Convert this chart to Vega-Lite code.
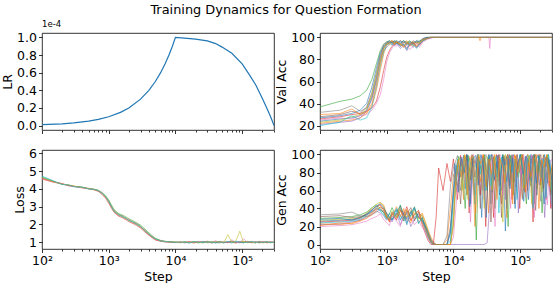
{
"$schema": "https://vega.github.io/schema/vega-lite/v6.json",
"padding": {"left": 1, "top": 3, "right": 0, "bottom": 0},
"title": {"text": "Training Dynamics for Question Formation", "fontSize": 12.9, "fontWeight": "normal", "font": "DejaVu Sans", "color": "#000", "anchor": "middle", "offset": 3, "dx": 9},
"config": {
  "font": "DejaVu Sans",
  "view": {"stroke": "#000", "strokeWidth": 0.8},
  "axis": {"labelFont": "DejaVu Sans", "titleFont": "DejaVu Sans", "labelFontSize": 12.5, "titleFontSize": 12.5, "titleFontWeight": "normal", "labelColor": "#000", "titleColor": "#000", "tickColor": "#000", "tickSize": 3.5, "tickWidth": 0.8, "domain": false, "grid": false, "labelPadding": 2, "titlePadding": 2},
  "line": {"strokeWidth": 1, "opacity": 0.58}
},
"bounds": "flush",
"spacing": {"row": 20, "column": 46},
"columns": 2,
"concat": [
 {
  "width": 232, "height": 97,
  "title": {"text": "1e-4", "anchor": "start", "frame": "group", "fontSize": 8.5, "fontWeight": "normal", "offset": 3, "color": "#000"},
  "data": {"values": "x,y\n100,0.000001\n200,0.000002\n300,0.000003\n500,0.000005\n700,0.000007\n1000,0.00001\n1500,0.000015\n2000,0.00002\n3000,0.00003\n4000,0.00004\n5000,0.00005\n6000,0.00006\n7000,0.00007\n8000,0.00008\n9000,0.00009\n10000,0.0001\n15000,0.000099\n20000,0.000098\n30000,0.000096\n40000,0.000093\n50000,0.000089\n70000,0.000082\n100000,0.00007\n130000,0.000057\n160000,0.000046\n200000,0.000031\n230000,0.000021\n260000,0.000012\n280000,0.000006\n300000,0", "format": {"type": "csv", "parse": {"x": "number", "y": "number"}}},
  "mark": {"type": "line", "color": "#1f77b4", "strokeWidth": 1.2, "opacity": 1, "clip": true},
  "encoding": {
   "x": {"field": "x", "type": "quantitative", "scale": {"type": "log", "domain": [100, 300000], "nice": false}, "axis": {"title": null, "labels": false, "values": [100,200,300,400,500,600,700,800,900,1000,2000,3000,4000,5000,6000,7000,8000,9000,10000,20000,30000,40000,50000,60000,70000,80000,90000,100000,200000,300000], "tickSize": {"condition": {"test": "indexof([100,1000,10000,100000],datum.value)>=0", "value": 3.5}, "value": 2}}},
   "y": {"field": "y", "type": "quantitative", "scale": {"domain": [-0.000005, 0.000105], "nice": false, "zero": false}, "axis": {"title": "LR", "values": [0, 0.00002, 0.00004, 0.00006, 0.00008, 0.0001], "labelExpr": "format(datum.value*10000,'.1f')"}}
  }
 },
 {
  "width": 232, "height": 97,
  "data": {"values": "r,x,y\na,100,24\na,200,26\na,300,27\na,400,29\na,500,34\na,600,45\na,700,62\na,800,80\na,900,90\na,1000,94\na,1100,95\na,1200,93\na,1300,96\na,1400,94\na,1600,97\na,1800,92\na,2000,95\na,2200,93\na,2500,96\na,2800,91\na,3100,95\na,3500,97\na,4000,99\na,4500,99.5\na,5000,100\na,6000,100\na,8000,100\na,300000,100\nb,100,22\nb,200,24\nb,300,25\nb,400,27\nb,500,31\nb,600,38\nb,700,52\nb,800,70\nb,900,85\nb,1000,93\nb,1100,96\nb,1200,97\nb,1300,94\nb,1400,96\nb,1600,93\nb,1800,95\nb,2000,97\nb,2200,92\nb,2500,94\nb,2800,96\nb,3100,93\nb,3500,98\nb,4000,99\nb,4500,100\nb,5000,100\nb,6000,100\nb,8000,100\nb,24000,100\nb,25000,97\nb,26000,100\nb,300000,100\nc,100,37\nc,200,42\nc,300,44\nc,400,47\nc,500,52\nc,600,62\nc,700,76\nc,800,88\nc,900,94\nc,1000,96\nc,1100,97\nc,1200,95\nc,1300,97\nc,1400,96\nc,1600,94\nc,1800,97\nc,2000,95\nc,2200,97\nc,2500,94\nc,2800,96\nc,3100,97\nc,3500,98\nc,4000,100\nc,4500,100\nc,5000,100\nc,6000,100\nc,8000,100\nc,300000,100\nd,100,26\nd,200,28\nd,300,30\nd,400,31\nd,500,33\nd,600,36\nd,700,42\nd,800,55\nd,900,70\nd,1000,82\nd,1100,88\nd,1200,92\nd,1300,94\nd,1400,96\nd,1600,92\nd,1800,94\nd,2000,90\nd,2200,93\nd,2500,95\nd,2800,91\nd,3100,94\nd,3500,97\nd,4000,99\nd,4500,100\nd,5000,100\nd,6000,100\nd,8000,100\nd,300000,100\ne,100,21\ne,200,23\ne,300,24\ne,400,27\ne,500,33\ne,600,44\ne,700,60\ne,800,78\ne,900,88\ne,1000,91\ne,1100,94\ne,1200,96\ne,1300,92\ne,1400,95\ne,1600,90\ne,1800,93\ne,2000,88\ne,2200,94\ne,2500,91\ne,2800,95\ne,3100,93\ne,3500,97\ne,4000,99\ne,4500,100\ne,5000,100\ne,6000,100\ne,8000,100\ne,300000,100\nf,100,28\nf,200,30\nf,300,33\nf,400,31\nf,500,37\nf,600,50\nf,700,68\nf,800,84\nf,900,93\nf,1000,96\nf,1100,95\nf,1200,97\nf,1300,96\nf,1400,94\nf,1600,97\nf,1800,95\nf,2000,96\nf,2200,94\nf,2500,97\nf,2800,95\nf,3100,96\nf,3500,99\nf,4000,100\nf,4500,100\nf,5000,100\nf,6000,100\nf,8000,100\nf,300000,100\ng,100,25\ng,200,27\ng,300,26\ng,400,29\ng,500,30\ng,600,34\ng,700,40\ng,800,48\ng,900,62\ng,1000,78\ng,1100,86\ng,1200,90\ng,1300,94\ng,1400,92\ng,1600,95\ng,1800,91\ng,2000,93\ng,2200,89\ng,2500,92\ng,2800,94\ng,3100,91\ng,3500,96\ng,4000,98\ng,4500,99\ng,5000,100\ng,6000,100\ng,8000,100\ng,34000,100\ng,35000,90\ng,36000,100\ng,300000,100\nh,100,32\nh,200,34\nh,300,38\nh,400,33\nh,500,36\nh,600,47\nh,700,64\nh,800,82\nh,900,91\nh,1000,95\nh,1100,96\nh,1200,94\nh,1300,97\nh,1400,95\nh,1600,93\nh,1800,96\nh,2000,94\nh,2200,96\nh,2500,93\nh,2800,97\nh,3100,95\nh,3500,98\nh,4000,100\nh,4500,100\nh,5000,100\nh,6000,100\nh,8000,100\nh,300000,100\ni,100,23\ni,200,25\ni,300,28\ni,400,30\ni,500,35\ni,600,48\ni,700,66\ni,800,79\ni,900,89\ni,1000,94\ni,1100,93\ni,1200,96\ni,1300,95\ni,1400,97\ni,1600,94\ni,1800,92\ni,2000,95\ni,2200,96\ni,2500,92\ni,2800,95\ni,3100,96\ni,3500,97\ni,4000,99\ni,4500,100\ni,5000,100\ni,6000,100\ni,8000,100\ni,300000,100\nj,100,20\nj,200,23\nj,300,29\nj,400,25\nj,500,27\nj,600,37\nj,700,55\nj,800,74\nj,900,87\nj,1000,93\nj,1100,95\nj,1200,96\nj,1300,93\nj,1400,95\nj,1600,92\nj,1800,94\nj,2000,89\nj,2200,95\nj,2500,93\nj,2800,90\nj,3100,94\nj,3500,97\nj,4000,99\nj,4500,100\nj,5000,100\nj,6000,100\nj,8000,100\nj,300000,100\nk,100,27\nk,200,29\nk,300,31\nk,400,34\nk,500,40\nk,600,55\nk,700,72\nk,800,86\nk,900,92\nk,1000,95\nk,1100,97\nk,1200,95\nk,1300,96\nk,1400,97\nk,1600,95\nk,1800,97\nk,2000,93\nk,2200,96\nk,2500,95\nk,2800,97\nk,3100,96\nk,3500,99\nk,4000,100\nk,4500,100\nk,5000,100\nk,6000,100\nk,8000,100\nk,300000,100\nl,100,30\nl,200,31\nl,300,35\nl,400,30\nl,500,32\nl,600,40\nl,700,57\nl,800,76\nl,900,90\nl,1000,94\nl,1100,95\nl,1200,97\nl,1300,93\nl,1400,96\nl,1600,94\nl,1800,91\nl,2000,95\nl,2200,94\nl,2500,96\nl,2800,92\nl,3100,95\nl,3500,98\nl,4000,99\nl,4500,100\nl,5000,100\nl,6000,100\nl,8000,100\nl,300000,100", "format": {"type": "csv", "parse": {"x": "number", "y": "number"}}},
  "mark": {"type": "line", "clip": true},
  "encoding": {
   "x": {"field": "x", "type": "quantitative", "scale": {"type": "log", "domain": [100, 300000], "nice": false}, "axis": {"title": null, "labels": false, "values": [100,200,300,400,500,600,700,800,900,1000,2000,3000,4000,5000,6000,7000,8000,9000,10000,20000,30000,40000,50000,60000,70000,80000,90000,100000,200000,300000], "tickSize": {"condition": {"test": "indexof([100,1000,10000,100000],datum.value)>=0", "value": 3.5}, "value": 2}}},
   "y": {"field": "y", "type": "quantitative", "scale": {"domain": [16, 104], "nice": false, "zero": false}, "axis": {"title": "Val Acc", "values": [20, 40, 60, 80, 100]}},
   "color": {"field": "r", "type": "nominal", "legend": null, "scale": {"domain": ["a","b","c","d","e","f","g","h","i","j","k","l"], "range": ["#1f77b4","#ff7f0e","#2ca02c","#d62728","#9467bd","#8c564b","#e377c2","#7f7f7f","#bcbd22","#17becf","#1f77b4","#ff7f0e"]}}
  }
 },
 {
  "width": 232, "height": 99,
  "data": {"values": "r,x,y\na,100,4.62\na,150,4.41\na,200,4.27\na,250,4.21\na,300,4.14\na,400,4.09\na,500,4.01\na,600,3.98\na,700,3.91\na,800,3.74\na,900,3.56\na,1000,3.28\na,1100,3.02\na,1200,2.74\na,1400,2.57\na,1600,2.43\na,1800,2.37\na,2000,2.22\na,2300,2.15\na,2600,2.01\na,3000,1.9\na,3500,1.63\na,4000,1.47\na,4500,1.28\na,5000,1.19\na,6000,1.07\na,7000,1.05\na,8500,1.01\na,10000,1.0\na,12000,0.98\na,14000,1.03\na,16000,0.96\na,19000,1.02\na,22000,0.99\na,26000,1.05\na,30000,0.97\na,35000,1.01\na,40000,0.95\na,46000,1.04\na,53000,0.98\na,61000,1.02\na,70000,0.96\na,80000,1.06\na,92000,0.99\na,105000,0.97\na,120000,1.03\na,138000,0.98\na,158000,1.04\na,180000,0.96\na,205000,1.01\na,235000,0.99\na,265000,1.03\na,300000,0.98\nb,100,4.55\nb,150,4.38\nb,200,4.3\nb,250,4.18\nb,300,4.16\nb,400,4.06\nb,500,4.03\nb,600,3.95\nb,700,3.88\nb,800,3.77\nb,900,3.5\nb,1000,3.36\nb,1100,2.94\nb,1200,2.82\nb,1400,2.49\nb,1600,2.51\nb,1800,2.29\nb,2000,2.31\nb,2300,2.07\nb,2600,2.09\nb,3000,1.82\nb,3500,1.71\nb,4000,1.4\nb,4500,1.35\nb,5000,1.14\nb,6000,1.1\nb,7000,1.03\nb,8500,1.03\nb,10000,0.99\nb,12000,1.03\nb,14000,0.97\nb,16000,1.01\nb,19000,0.95\nb,22000,1.04\nb,26000,0.98\nb,30000,1.02\nb,35000,0.96\nb,40000,1.05\nb,46000,0.99\nb,53000,0.97\nb,61000,1.03\nb,70000,1.0\nb,80000,0.95\nb,92000,1.04\nb,105000,1.02\nb,120000,0.97\nb,138000,1.05\nb,158000,0.98\nb,180000,1.02\nb,205000,0.96\nb,235000,1.04\nb,265000,0.99\nb,300000,1.0\nc,100,4.68\nc,150,4.43\nc,200,4.26\nc,250,4.22\nc,300,4.13\nc,400,4.1\nc,500,4.0\nc,600,3.99\nc,700,3.92\nc,800,3.79\nc,900,3.62\nc,1000,3.38\nc,1100,3.1\nc,1200,2.84\nc,1400,2.62\nc,1600,2.53\nc,1800,2.43\nc,2000,2.32\nc,2300,2.21\nc,2600,2.1\nc,3000,1.96\nc,3500,1.73\nc,4000,1.53\nc,4500,1.36\nc,5000,1.23\nc,6000,1.1\nc,7000,1.05\nc,8500,1.02\nc,10000,1.01\nc,12000,0.97\nc,14000,1.02\nc,16000,1.0\nc,19000,1.04\nc,22000,0.96\nc,26000,1.01\nc,30000,0.98\nc,35000,1.05\nc,40000,0.99\nc,46000,0.96\nc,53000,1.03\nc,61000,0.98\nc,70000,1.06\nc,80000,1.0\nc,92000,0.97\nc,105000,1.04\nc,120000,0.99\nc,138000,1.01\nc,158000,0.96\nc,180000,1.05\nc,205000,0.98\nc,235000,1.02\nc,265000,0.97\nc,300000,1.01\nd,100,4.58\nd,150,4.39\nd,200,4.29\nd,250,4.19\nd,300,4.15\nd,400,4.07\nd,500,4.02\nd,600,3.96\nd,700,3.86\nd,800,3.68\nd,900,3.47\nd,1000,3.2\nd,1100,2.92\nd,1200,2.68\nd,1400,2.48\nd,1600,2.38\nd,1800,2.28\nd,2000,2.16\nd,2300,2.06\nd,2600,1.95\nd,3000,1.8\nd,3500,1.57\nd,4000,1.39\nd,4500,1.24\nd,5000,1.13\nd,6000,1.05\nd,7000,1.02\nd,8500,1.0\nd,10000,0.98\nd,12000,1.01\nd,14000,0.98\nd,16000,1.04\nd,19000,0.97\nd,22000,1.02\nd,26000,0.99\nd,30000,1.06\nd,35000,0.96\nd,40000,1.01\nd,46000,1.03\nd,53000,0.98\nd,61000,1.0\nd,70000,1.04\nd,80000,0.97\nd,92000,1.02\nd,105000,0.99\nd,120000,1.05\nd,138000,0.97\nd,158000,1.01\nd,180000,0.98\nd,205000,1.04\nd,235000,0.96\nd,265000,1.02\nd,300000,0.99\ng,100,4.57\ng,150,4.37\ng,200,4.31\ng,250,4.17\ng,300,4.14\ng,400,4.07\ng,500,4.01\ng,600,3.96\ng,700,3.9\ng,800,3.78\ng,900,3.53\ng,1000,3.32\ng,1100,2.98\ng,1200,2.79\ng,1400,2.53\ng,1600,2.47\ng,1800,2.33\ng,2000,2.27\ng,2300,2.11\ng,2600,2.05\ng,3000,1.86\ng,3500,1.67\ng,4000,1.43\ng,4500,1.33\ng,5000,1.15\ng,6000,1.1\ng,7000,1.02\ng,8500,1.02\ng,10000,1.0\ng,12000,1.0\ng,14000,0.96\ng,16000,1.03\ng,19000,0.99\ng,22000,1.05\ng,26000,0.97\ng,30000,1.02\ng,35000,1.0\ng,40000,1.08\ng,46000,0.98\ng,53000,1.03\ng,61000,0.96\ng,70000,1.14\ng,80000,1.0\ng,92000,0.97\ng,105000,1.2\ng,120000,0.99\ng,138000,1.03\ng,158000,0.97\ng,180000,1.06\ng,205000,1.0\ng,235000,1.04\ng,265000,0.98\ng,300000,1.01\ni,100,4.64\ni,150,4.4\ni,200,4.27\ni,250,4.23\ni,300,4.16\ni,400,4.09\ni,500,4.03\ni,600,3.98\ni,700,3.92\ni,800,3.73\ni,900,3.57\ni,1000,3.27\ni,1100,3.03\ni,1200,2.73\ni,1400,2.58\ni,1600,2.42\ni,1800,2.38\ni,2000,2.21\ni,2300,2.16\ni,2600,2.0\ni,3000,1.91\ni,3500,1.62\ni,4000,1.48\ni,4500,1.28\ni,5000,1.21\ni,6000,1.07\ni,7000,1.05\ni,8500,1.01\ni,10000,1.02\ni,12000,0.98\ni,14000,1.02\ni,16000,0.97\ni,19000,1.04\ni,22000,1.0\ni,26000,0.96\ni,30000,1.03\ni,35000,0.99\ni,40000,1.01\ni,46000,1.05\ni,53000,0.97\ni,61000,1.43\ni,70000,0.99\ni,80000,1.05\ni,92000,1.62\ni,105000,0.98\ni,120000,1.04\ni,138000,1.0\ni,158000,0.97\ni,180000,1.03\ni,205000,0.99\ni,235000,1.01\ni,265000,0.98\ni,300000,1.0\nj,100,4.72\nj,150,4.45\nj,200,4.25\nj,250,4.22\nj,300,4.12\nj,400,4.1\nj,500,4.0\nj,600,3.97\nj,700,3.9\nj,800,3.74\nj,900,3.56\nj,1000,3.3\nj,1100,3.0\nj,1200,2.75\nj,1400,2.55\nj,1600,2.45\nj,1800,2.35\nj,2000,2.23\nj,2300,2.14\nj,2600,2.03\nj,3000,1.88\nj,3500,1.64\nj,4000,1.46\nj,4500,1.3\nj,5000,1.19\nj,6000,1.08\nj,7000,1.03\nj,8500,1.02\nj,10000,0.99\nj,12000,1.02\nj,14000,0.99\nj,16000,0.96\nj,19000,1.03\nj,22000,1.01\nj,26000,0.98\nj,30000,1.04\nj,35000,0.97\nj,40000,1.0\nj,46000,1.02\nj,53000,0.96\nj,61000,1.05\nj,70000,0.99\nj,80000,1.01\nj,92000,1.03\nj,105000,0.97\nj,120000,1.0\nj,138000,1.04\nj,158000,0.98\nj,180000,1.02\nj,205000,0.99\nj,235000,1.03\nj,265000,0.97\nj,300000,1.01", "format": {"type": "csv", "parse": {"x": "number", "y": "number"}}},
  "mark": {"type": "line", "clip": true},
  "encoding": {
   "x": {"field": "x", "type": "quantitative", "scale": {"type": "log", "domain": [100, 300000], "nice": false}, "axis": {"title": "Step", "titlePadding": 3, "labelFlush": false, "labelOverlap": false, "values": [100,200,300,400,500,600,700,800,900,1000,2000,3000,4000,5000,6000,7000,8000,9000,10000,20000,30000,40000,50000,60000,70000,80000,90000,100000,200000,300000], "labelExpr": "datum.value==100?'10²':datum.value==1000?'10³':datum.value==10000?'10⁴':datum.value==100000?'10⁵':''", "tickSize": {"condition": {"test": "indexof([100,1000,10000,100000],datum.value)>=0", "value": 3.5}, "value": 2}}},
   "y": {"field": "y", "type": "quantitative", "scale": {"domain": [0.62, 6.19], "nice": false, "zero": false}, "axis": {"title": "Loss", "values": [1, 2, 3, 4, 5, 6]}},
   "color": {"field": "r", "type": "nominal", "legend": null, "scale": {"domain": ["a","b","c","d","e","f","g","h","i","j","k","l"], "range": ["#1f77b4","#ff7f0e","#2ca02c","#d62728","#9467bd","#8c564b","#e377c2","#7f7f7f","#bcbd22","#17becf","#1f77b4","#ff7f0e"]}}
  }
 },
 {
  "width": 232, "height": 99,
  "data": {"values": "r,x,y\na,100,26\na,200,27\na,300,28\na,400,30\na,500,33\na,600,37\na,700,40\na,800,38\na,900,36\na,1000,30\na,1100,28\na,1200,33\na,1400,38\na,1600,27\na,1800,35\na,2000,22\na,2300,37\na,2600,30\na,3000,34\na,3400,28\na,3800,22\na,4200,14\na,4600,6\na,5000,2\na,5500,0\na,6000,0\na,7000,0\na,8000,0\na,9000,12\na,10000,55\na,11000,88\na,12000,70\na,13500,95\na,15000,62\na,16500,99\na,18000,45\na,20000,97\na,22000,85\na,24000,100\na,26500,30\na,29000,96\na,32000,78\na,35000,100\na,38000,58\na,42000,94\na,46000,99\na,50000,72\na,55000,100\na,60000,15\na,66000,97\na,72000,83\na,79000,100\na,86000,64\na,94000,92\na,103000,100\na,113000,48\na,124000,98\na,136000,90\na,149000,70\na,163000,100\na,178000,55\na,195000,96\na,213000,82\na,233000,100\na,255000,68\na,278000,94\na,300000,65\nb,100,23\nb,200,22\nb,300,24\nb,400,27\nb,500,31\nb,600,35\nb,700,41\nb,800,46\nb,900,44\nb,1000,33\nb,1100,26\nb,1200,30\nb,1400,42\nb,1600,31\nb,1800,40\nb,2000,28\nb,2300,24\nb,2600,39\nb,3000,29\nb,3400,35\nb,3800,25\nb,4200,16\nb,4600,8\nb,5000,3\nb,5500,0\nb,6000,0\nb,7000,0\nb,8000,5\nb,9000,40\nb,10000,78\nb,11500,65\nb,12800,92\nb,14200,50\nb,15700,98\nb,17200,82\nb,19000,99\nb,21000,20\nb,23000,96\nb,25300,70\nb,27700,100\nb,30500,88\nb,33500,35\nb,36500,97\nb,40000,90\nb,44000,60\nb,48000,100\nb,52500,85\nb,57500,99\nb,63000,30\nb,69000,95\nb,75500,70\nb,82500,100\nb,90000,75\nb,98500,98\nb,108000,52\nb,118500,91\nb,130000,100\nb,142500,80\nb,156000,42\nb,170500,99\nb,186500,88\nb,204000,66\nb,223000,100\nb,244000,73\nb,266000,95\nb,288000,58\nb,300000,90\nc,100,29\nc,200,30\nc,300,31\nc,400,33\nc,500,36\nc,600,41\nc,700,44\nc,800,40\nc,900,35\nc,1000,29\nc,1100,34\nc,1200,41\nc,1400,30\nc,1600,44\nc,1800,26\nc,2000,38\nc,2300,31\nc,2600,42\nc,3000,24\nc,3400,30\nc,3800,18\nc,4200,10\nc,4600,3\nc,5000,0\nc,5500,0\nc,6000,0\nc,7000,0\nc,8000,0\nc,9000,0\nc,10000,25\nc,11000,70\nc,12000,98\nc,13500,85\nc,15000,40\nc,16500,99\nc,18000,72\nc,20000,97\nc,22000,5\nc,24000,94\nc,26500,80\nc,29000,100\nc,32000,60\nc,35000,92\nc,38000,100\nc,42000,40\nc,46000,97\nc,50000,65\nc,55000,100\nc,60000,88\nc,66000,20\nc,72000,99\nc,79000,60\nc,86000,95\nc,94000,85\nc,103000,100\nc,113000,75\nc,124000,45\nc,136000,98\nc,149000,90\nc,163000,100\nc,178000,62\nc,195000,97\nc,213000,35\nc,233000,93\nc,255000,100\nc,278000,78\nc,300000,85\nd,100,25\nd,200,26\nd,300,27\nd,400,29\nd,500,34\nd,600,39\nd,700,42\nd,800,44\nd,900,38\nd,1000,31\nd,1100,25\nd,1200,36\nd,1400,27\nd,1600,38\nd,1800,33\nd,2000,42\nd,2300,27\nd,2600,33\nd,3000,38\nd,3400,22\nd,3800,12\nd,4200,4\nd,4600,0\nd,5000,0\nd,5500,30\nd,6000,85\nd,7000,60\nd,8000,90\nd,9000,70\nd,10000,95\nd,11500,50\nd,12800,99\nd,14200,78\nd,15700,100\nd,17200,35\nd,19000,95\nd,21000,90\nd,23000,100\nd,25300,55\nd,27700,98\nd,30500,20\nd,33500,99\nd,36500,80\nd,40000,30\nd,44000,100\nd,48000,85\nd,52500,45\nd,57500,96\nd,63000,70\nd,69000,100\nd,75500,50\nd,82500,90\nd,90000,100\nd,98500,40\nd,108000,97\nd,118500,82\nd,130000,60\nd,142500,99\nd,156000,25\nd,170500,94\nd,186500,100\nd,204000,70\nd,223000,88\nd,244000,50\nd,266000,96\nd,288000,40\nd,300000,75\ne,100,22\ne,200,23\ne,300,25\ne,400,27\ne,500,30\ne,600,34\ne,700,37\ne,800,35\ne,900,32\ne,1000,27\ne,1100,30\ne,1200,25\ne,1400,35\ne,1600,22\ne,1800,30\ne,2000,36\ne,2300,20\ne,2600,28\ne,3000,32\ne,3400,25\ne,3800,15\ne,4200,7\ne,4600,2\ne,5000,0\ne,5500,0\ne,6000,0\ne,7000,0\ne,8000,0\ne,9000,0\ne,10000,0\ne,11000,0\ne,12000,0\ne,13500,0\ne,15000,0\ne,16500,0\ne,18000,0\ne,20000,0\ne,22000,0\ne,24000,0\ne,26500,0\ne,29000,0\ne,32000,2\ne,35000,45\ne,38000,90\ne,42000,70\ne,46000,99\ne,50000,65\ne,55000,95\ne,60000,50\ne,66000,100\ne,72000,80\ne,79000,55\ne,86000,98\ne,94000,35\ne,103000,85\ne,113000,60\ne,124000,97\ne,136000,72\ne,149000,100\ne,163000,45\ne,178000,88\ne,195000,66\ne,213000,96\ne,233000,30\ne,255000,80\ne,278000,58\ne,300000,40\nf,100,31\nf,200,32\nf,300,30\nf,400,31\nf,500,33\nf,600,36\nf,700,39\nf,800,41\nf,900,40\nf,1000,35\nf,1100,31\nf,1200,28\nf,1400,33\nf,1600,40\nf,1800,29\nf,2000,34\nf,2300,41\nf,2600,26\nf,3000,36\nf,3400,31\nf,3800,20\nf,4200,11\nf,4600,5\nf,5000,1\nf,5500,0\nf,6000,0\nf,7000,0\nf,8000,0\nf,9000,20\nf,10000,60\nf,11500,92\nf,12800,45\nf,14200,99\nf,15700,88\nf,17200,60\nf,19000,100\nf,21000,75\nf,23000,98\nf,25300,40\nf,27700,95\nf,30500,65\nf,33500,100\nf,36500,25\nf,40000,97\nf,44000,85\nf,48000,99\nf,52500,30\nf,57500,90\nf,63000,98\nf,69000,65\nf,75500,100\nf,82500,45\nf,90000,92\nf,98500,80\nf,108000,100\nf,118500,58\nf,130000,95\nf,142500,70\nf,156000,99\nf,170500,38\nf,186500,90\nf,204000,100\nf,223000,62\nf,244000,97\nf,266000,84\nf,288000,55\nf,300000,70\ng,100,20\ng,200,21\ng,300,22\ng,400,24\ng,500,26\ng,600,29\ng,700,31\ng,800,34\ng,900,28\ng,1000,24\ng,1100,21\ng,1200,32\ng,1400,26\ng,1600,20\ng,1800,37\ng,2000,25\ng,2300,30\ng,2600,22\ng,3000,27\ng,3400,19\ng,3800,14\ng,4200,6\ng,4600,1\ng,5000,0\ng,5500,0\ng,6000,0\ng,7000,0\ng,8000,0\ng,9000,0\ng,10000,8\ng,11000,45\ng,12000,80\ng,13500,97\ng,15000,70\ng,16500,92\ng,18000,25\ng,20000,100\ng,22000,65\ng,24000,96\ng,26500,99\ng,29000,50\ng,32000,90\ng,35000,70\ng,38000,100\ng,42000,20\ng,46000,92\ng,50000,100\ng,55000,55\ng,60000,95\ng,66000,85\ng,72000,40\ng,79000,99\ng,86000,65\ng,94000,95\ng,103000,78\ng,113000,100\ng,124000,52\ng,136000,93\ng,149000,99\ng,163000,30\ng,178000,87\ng,195000,100\ng,213000,68\ng,233000,95\ng,255000,44\ng,278000,90\ng,300000,95\nh,100,33\nh,200,34\nh,300,36\nh,400,32\nh,500,31\nh,600,33\nh,700,36\nh,800,39\nh,900,37\nh,1000,33\nh,1100,28\nh,1200,34\nh,1400,39\nh,1600,33\nh,1800,26\nh,2000,31\nh,2300,35\nh,2600,29\nh,3000,31\nh,3400,27\nh,3800,19\nh,4200,9\nh,4600,3\nh,5000,0\nh,5500,0\nh,6000,0\nh,7000,0\nh,8000,10\nh,9000,65\nh,10000,85\nh,11500,99\nh,12800,60\nh,14200,90\nh,15700,100\nh,17200,70\nh,19000,96\nh,21000,55\nh,23000,99\nh,25300,88\nh,27700,60\nh,30500,100\nh,33500,92\nh,36500,45\nh,40000,98\nh,44000,75\nh,48000,100\nh,52500,60\nh,57500,98\nh,63000,40\nh,69000,90\nh,75500,99\nh,82500,70\nh,90000,100\nh,98500,82\nh,108000,50\nh,118500,97\nh,130000,100\nh,142500,65\nh,156000,93\nh,170500,100\nh,186500,75\nh,204000,48\nh,223000,99\nh,244000,86\nh,266000,100\nh,288000,62\nh,300000,80\ni,100,27\ni,200,28\ni,300,29\ni,400,30\ni,500,35\ni,600,40\ni,700,45\ni,800,47\ni,900,42\ni,1000,32\ni,1100,29\ni,1200,37\ni,1400,31\ni,1600,42\ni,1800,36\ni,2000,30\ni,2300,38\ni,2600,35\ni,3000,28\ni,3400,33\ni,3800,24\ni,4200,13\ni,4600,5\ni,5000,0\ni,5500,0\ni,6000,0\ni,7000,0\ni,8000,0\ni,9000,0\ni,10000,35\ni,11000,80\ni,12000,96\ni,13500,60\ni,15000,99\ni,16500,50\ni,18000,90\ni,20000,98\ni,22000,70\ni,24000,100\ni,26500,85\ni,29000,40\ni,32000,97\ni,35000,88\ni,38000,60\ni,42000,99\ni,46000,70\ni,50000,95\ni,55000,25\ni,60000,100\ni,66000,80\ni,72000,92\ni,79000,55\ni,86000,98\ni,94000,75\ni,103000,100\ni,113000,62\ni,124000,90\ni,136000,99\ni,149000,45\ni,163000,96\ni,178000,80\ni,195000,100\ni,213000,58\ni,233000,92\ni,255000,99\ni,278000,70\ni,300000,60\nj,100,24\nj,200,25\nj,300,26\nj,400,28\nj,500,32\nj,600,38\nj,700,43\nj,800,37\nj,900,33\nj,1000,28\nj,1100,35\nj,1200,27\nj,1400,40\nj,1600,29\nj,1800,32\nj,2000,24\nj,2300,33\nj,2600,40\nj,3000,23\nj,3400,29\nj,3800,16\nj,4200,8\nj,4600,2\nj,5000,0\nj,5500,0\nj,6000,0\nj,7000,0\nj,8000,0\nj,9000,4\nj,10000,50\nj,11500,95\nj,12800,75\nj,14200,99\nj,15700,55\nj,17200,96\nj,19000,85\nj,21000,45\nj,23000,100\nj,25300,78\nj,27700,97\nj,30500,60\nj,33500,99\nj,36500,65\nj,40000,90\nj,44000,98\nj,48000,35\nj,52500,97\nj,57500,85\nj,63000,70\nj,69000,99\nj,75500,80\nj,82500,95\nj,90000,50\nj,98500,100\nj,108000,88\nj,118500,66\nj,130000,97\nj,142500,100\nj,156000,40\nj,170500,91\nj,186500,99\nj,204000,74\nj,223000,95\nj,244000,52\nj,266000,100\nj,288000,83\nj,300000,45\nk,100,28\nk,200,29\nk,300,27\nk,400,30\nk,500,34\nk,600,38\nk,700,43\nk,800,45\nk,900,41\nk,1000,34\nk,1100,30\nk,1200,27\nk,1400,36\nk,1600,43\nk,1800,33\nk,2000,28\nk,2300,36\nk,2600,41\nk,3000,30\nk,3400,26\nk,3800,20\nk,4200,12\nk,4600,4\nk,5000,0\nk,5500,0\nk,6000,0\nk,7000,0\nk,8000,0\nk,9000,15\nk,10000,62\nk,10500,90\nk,11800,58\nk,13000,97\nk,14600,80\nk,16000,100\nk,17600,42\nk,19500,95\nk,21500,99\nk,23500,66\nk,25800,100\nk,28300,85\nk,31000,30\nk,34000,96\nk,37200,100\nk,41000,72\nk,45000,93\nk,49000,55\nk,54000,99\nk,59000,88\nk,64500,100\nk,70500,62\nk,77000,96\nk,84000,40\nk,92000,90\nk,100500,100\nk,110000,78\nk,121000,98\nk,133000,50\nk,146000,94\nk,160000,100\nk,175000,68\nk,191000,99\nk,209000,84\nk,229000,45\nk,250000,97\nk,273000,90\nk,300000,72\nl,100,21\nl,200,24\nl,300,23\nl,400,26\nl,500,29\nl,600,33\nl,700,38\nl,800,42\nl,900,39\nl,1000,30\nl,1100,27\nl,1200,34\nl,1400,29\nl,1600,37\nl,1800,31\nl,2000,39\nl,2300,26\nl,2600,34\nl,3000,37\nl,3400,24\nl,3800,17\nl,4200,9\nl,4600,3\nl,5000,0\nl,5500,0\nl,6000,0\nl,7000,0\nl,8000,0\nl,9000,0\nl,10000,20\nl,10500,60\nl,11800,94\nl,13000,75\nl,14600,100\nl,16000,55\nl,17600,98\nl,19500,82\nl,21500,35\nl,23500,99\nl,25800,90\nl,28300,100\nl,31000,64\nl,34000,95\nl,37200,78\nl,41000,100\nl,45000,50\nl,49000,97\nl,54000,88\nl,59000,68\nl,64500,100\nl,70500,92\nl,77000,45\nl,84000,99\nl,92000,80\nl,100500,96\nl,110000,100\nl,121000,58\nl,133000,91\nl,146000,75\nl,160000,99\nl,175000,100\nl,191000,40\nl,209000,94\nl,229000,86\nl,250000,100\nl,273000,65\nl,300000,88", "format": {"type": "csv", "parse": {"x": "number", "y": "number"}}},
  "mark": {"type": "line", "clip": true},
  "encoding": {
   "x": {"field": "x", "type": "quantitative", "scale": {"type": "log", "domain": [100, 300000], "nice": false}, "axis": {"title": "Step", "titlePadding": 3, "labelFlush": false, "labelOverlap": false, "values": [100,200,300,400,500,600,700,800,900,1000,2000,3000,4000,5000,6000,7000,8000,9000,10000,20000,30000,40000,50000,60000,70000,80000,90000,100000,200000,300000], "labelExpr": "datum.value==100?'10²':datum.value==1000?'10³':datum.value==10000?'10⁴':datum.value==100000?'10⁵':''", "tickSize": {"condition": {"test": "indexof([100,1000,10000,100000],datum.value)>=0", "value": 3.5}, "value": 2}}},
   "y": {"field": "y", "type": "quantitative", "scale": {"domain": [-5, 105], "nice": false, "zero": false}, "axis": {"title": "Gen Acc", "values": [0, 20, 40, 60, 80, 100]}},
   "color": {"field": "r", "type": "nominal", "legend": null, "scale": {"domain": ["a","b","c","d","e","f","g","h","i","j","k","l"], "range": ["#1f77b4","#ff7f0e","#2ca02c","#d62728","#9467bd","#8c564b","#e377c2","#7f7f7f","#bcbd22","#17becf","#1f77b4","#ff7f0e"]}}
  }
 }
]
}
